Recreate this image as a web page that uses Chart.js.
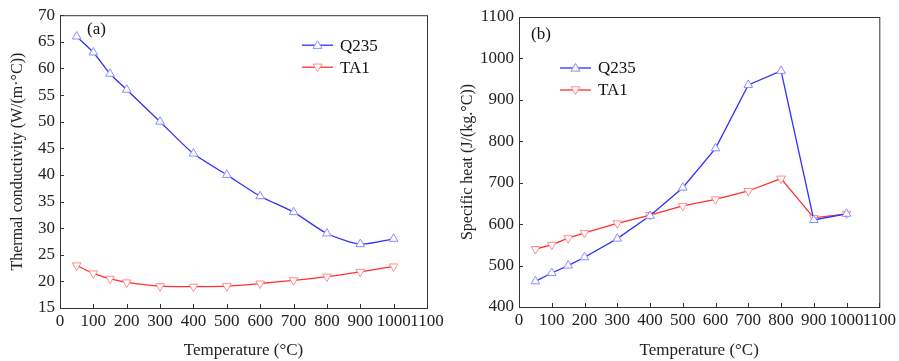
<!DOCTYPE html>
<html lang="en">
  <head>
    <meta charset="utf-8" />
    <title>Q235 / TA1 properties</title>
    <style>
      body { margin: 0; background: white; }
      .wrap { display: flex; width: 899px; height: 361px; }
      .box { position: relative; height: 361px; }
    </style>
  </head>
  <body>
    <div class="wrap">
      <div class="box" style="width:450px"><canvas id="chartA"></canvas></div>
      <div class="box" style="width:449px"><canvas id="chartB"></canvas></div>
    </div>
    <script src="https://cdn.jsdelivr.net/npm/chart.js"></script>
    <script>
      const temps = [50, 100, 150, 200, 300, 400, 500, 600, 700, 800, 900, 1000];

      // (a) thermal conductivity
      const condQ235 = [66, 63, 59, 56, 50, 44, 40, 36, 33, 29, 27, 28];
      const condTA1 = [23, 21.5, 20.5, 19.8, 19.1, 19, 19.1, 19.6, 20.2, 20.9, 21.8, 22.8];

      // (b) specific heat
      const heatQ235 = [462, 482, 500, 520, 565, 620, 688, 783, 936, 970, 610, 625];
      const heatTA1 = [540, 550, 566, 579, 602, 622, 644, 660, 680, 710, 615, 625];

      const seriesNames = ["Q235", "TA1"];

      const FONT = "'Liberation Serif', 'Times New Roman', serif";
      const BLUE = "#3030ff";
      const BLUE_PT = "#8c8cff";
      const RED = "#ff3030";
      const RED_PT = "#ff8c8c";

      function toXY(ys) {
        return ys.map((y, i) => ({ x: temps[i], y }));
      }

      // frame, inward ticks, panel label and legend
      const decor = {
        id: "decor",
        afterDraw(chart, args, opts) {
          const { ctx, chartArea: a, scales } = chart;
          ctx.save();
          ctx.strokeStyle = "#333";
          ctx.lineWidth = 1;
          ctx.strokeRect(a.left + 0.5, a.top + 0.5, a.right - a.left, a.bottom - a.top);
          ctx.beginPath();
          scales.x.ticks.forEach((t) => {
            const px = Math.round(scales.x.getPixelForValue(t.value)) + 0.5;
            ctx.moveTo(px, a.bottom);
            ctx.lineTo(px, a.bottom - 4);
          });
          scales.y.ticks.forEach((t) => {
            const py = Math.round(scales.y.getPixelForValue(t.value)) + 0.5;
            ctx.moveTo(a.left, py);
            ctx.lineTo(a.left + 4, py);
          });
          ctx.stroke();

          ctx.fillStyle = "#111";
          ctx.font = "17px " + FONT;
          ctx.textBaseline = "middle";
          ctx.textAlign = "left";
          ctx.fillText(opts.label, a.left + opts.labelDx, a.top + opts.labelDy);

          chart.data.datasets.forEach((ds, i) => {
            const y = a.top + opts.legDy + i * opts.legGap;
            const x0 = a.left + opts.legDx;
            ctx.strokeStyle = ds.borderColor;
            ctx.lineWidth = 1.3;
            ctx.beginPath();
            ctx.moveTo(x0, y);
            ctx.lineTo(x0 + 31, y);
            ctx.stroke();
            ctx.fillStyle = "white";
            ctx.strokeStyle = ds.pointBorderColor;
            ctx.lineWidth = 1;
            ctx.beginPath();
            const cx = x0 + 15.5, r = 4.5;
            if (i === 0) {
              ctx.moveTo(cx, y - r);
              ctx.lineTo(cx + r, y + r * 0.7);
              ctx.lineTo(cx - r, y + r * 0.7);
            } else {
              ctx.moveTo(cx, y + r);
              ctx.lineTo(cx + r, y - r * 0.7);
              ctx.lineTo(cx - r, y - r * 0.7);
            }
            ctx.closePath();
            ctx.fill();
            ctx.stroke();
            ctx.fillStyle = "#111";
            ctx.font = "17px " + FONT;
            ctx.fillText(ds.label, x0 + 38, y + 1);
          });
          ctx.restore();
        },
      };

      function makeChart(id, q, t, yMin, yMax, yStep, yTitle, tension, fit, deco) {
        return new Chart(document.getElementById(id), {
          type: "line",
          data: {
            datasets: [
              {
                label: seriesNames[0],
                data: toXY(q),
                borderColor: BLUE,
                borderWidth: 1.3,
                pointStyle: "triangle",
                pointRadius: 5,
                pointBackgroundColor: "white",
                pointBorderColor: BLUE_PT,
                pointBorderWidth: 1,
                tension: tension,
              },
              {
                label: seriesNames[1],
                data: toXY(t),
                borderColor: RED,
                borderWidth: 1.3,
                pointStyle: "triangle",
                pointRotation: 180,
                pointRadius: 5,
                pointBackgroundColor: "white",
                pointBorderColor: RED_PT,
                pointBorderWidth: 1,
                tension: tension,
              },
            ],
          },
          options: {
            responsive: true,
            maintainAspectRatio: false,
            animation: false,
            layout: { padding: { top: fit.top, right: fit.right, left: 0, bottom: 0 } },
            plugins: { legend: { display: false }, tooltip: { enabled: false }, decor: deco },
            scales: {
              x: {
                type: "linear",
                min: 0,
                max: 1100,
                afterFit: (s) => { s.height = fit.xh; },
                ticks: {
                  stepSize: 100,
                  autoSkip: false,
                  maxRotation: 0,
                  minRotation: 0,
                  color: "#222",
                  padding: 3,
                  font: { family: FONT, size: 17 },
                  callback: (v) => String(v),
                },
                grid: { display: false, drawTicks: false },
                border: { display: false },
                title: {
                  display: true,
                  text: "Temperature (\u00B0C)",
                  color: "#222",
                  font: { family: FONT, size: 17 },
                  padding: { top: 0, bottom: 0 },
                },
              },
              y: {
                min: yMin,
                max: yMax,
                afterFit: (s) => { s.width = fit.yw; },
                ticks: {
                  stepSize: yStep,
                  color: "#222",
                  padding: 5,
                  font: { family: FONT, size: 17 },
                  callback: (v) => String(v),
                },
                grid: { display: false, drawTicks: false },
                border: { display: false },
                title: {
                  display: true,
                  text: yTitle,
                  color: "#222",
                  font: { family: FONT, size: 16 },
                  padding: { top: 8, bottom: 0 },
                },
              },
            },
          },
          plugins: [decor],
        });
      }

      makeChart("chartA", condQ235, condTA1, 15, 70, 5,
        "Thermal conductivity (W/(m\u00B7\u00B0C))", 0.25,
        { top: 13, right: 23, xh: 53, yw: 60 },
        { label: "(a)", labelDx: 27, labelDy: 14, legDx: 242, legDy: 30, legGap: 22 });

      makeChart("chartB", heatQ235, heatTA1, 400, 1100, 100,
        "Specific heat (J/(kg.\u00B0C))", 0,
        { top: 17, right: 19, xh: 54, yw: 69 },
        { label: "(b)", labelDx: 12, labelDy: 18, legDx: 41, legDy: 51, legGap: 22 });
    </script>
  </body>
</html>
